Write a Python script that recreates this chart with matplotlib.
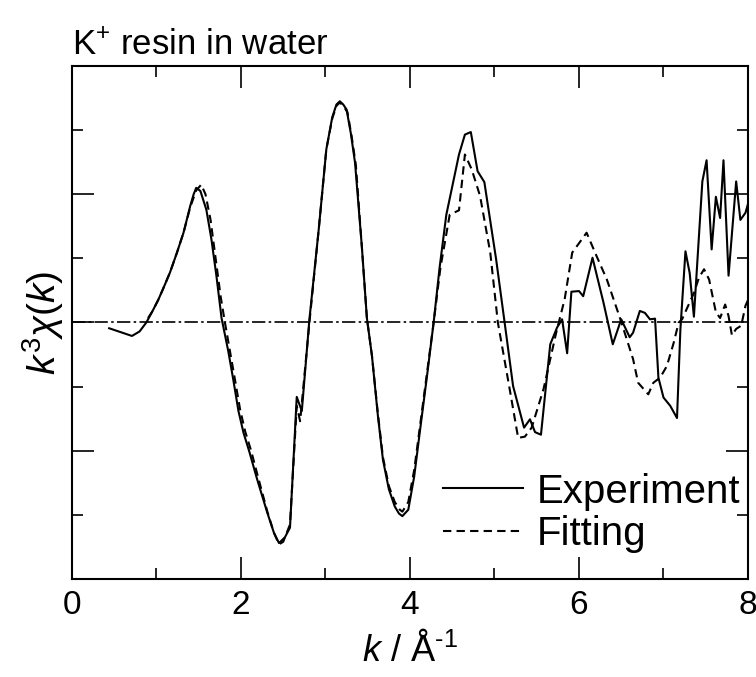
import numpy as np
import matplotlib
matplotlib.use("Agg")
import matplotlib.pyplot as plt
from matplotlib.ticker import MultipleLocator

plt.rcParams['font.family'] = ['Liberation Sans', 'DejaVu Sans']
plt.rcParams['mathtext.fontset'] = 'custom'
plt.rcParams['mathtext.rm'] = 'Liberation Sans'
plt.rcParams['mathtext.it'] = 'Liberation Sans:italic'

# experiment (solid)
k_exp = [0.44, 0.71, 0.80, 0.88, 0.95, 1.02, 1.08, 1.16, 1.24, 1.32, 1.40, 1.44, 1.47,
         1.52, 1.59, 1.65, 1.71, 1.77, 1.85, 1.91, 1.97, 2.03, 2.10, 2.19, 2.31, 2.39, 2.45,
         2.52, 2.58, 2.66, 2.72, 2.81, 2.92, 3.01, 3.08, 3.13, 3.17, 3.21, 3.25, 3.30,
         3.35, 3.43, 3.49, 3.55, 3.62, 3.68, 3.75, 3.82, 3.87, 3.91, 3.98, 4.05, 4.12,
         4.20, 4.28, 4.35, 4.43, 4.58, 4.65, 4.72, 4.80, 4.88, 5.02, 5.12,
         5.22, 5.35, 5.42, 5.48, 5.55, 5.66, 5.74, 5.80, 5.86, 5.91, 6.00, 6.05, 6.16,
         6.29, 6.40, 6.50, 6.60, 6.64, 6.72, 6.78, 6.84, 6.90, 6.94, 7.00, 7.08, 7.16,
         7.20, 7.26, 7.31, 7.36, 7.46, 7.51, 7.57, 7.62, 7.67, 7.71, 7.77, 7.86, 7.91,
         7.97, 8.00]
chi_exp = [-0.09, -0.21, -0.14, 0.00, 0.17, 0.35, 0.53, 0.78, 1.08, 1.40, 1.82, 2.00, 2.10,
           2.05, 1.76, 1.30, 0.72, 0.07, -0.45, -0.90, -1.38, -1.72, -2.02, -2.44, -2.96, -3.28, -3.44,
           -3.35, -3.20, -1.16, -1.38, 0.05, 1.45, 2.70, 3.20, 3.40, 3.45, 3.40, 3.32, 2.95,
           2.49, 1.19, 0.07, -0.52, -1.45, -2.14, -2.60, -2.87, -2.98, -3.02, -2.92, -2.40, -1.67,
           -0.85, 0.00, 0.85, 1.68, 2.62, 2.93, 2.97, 2.36, 2.19, 0.98, 0.00,
           -0.99, -1.64, -1.51, -1.71, -1.75, -0.34, -0.08, 0.05, -0.48, 0.48, 0.49, 0.41, 1.01,
           0.31, -0.34, 0.05, -0.23, -0.16, 0.18, 0.15, 0.05, 0.06, -0.86, -1.17, -1.30, -1.49,
           -0.11, 1.11, 0.77, 0.09, 2.20, 2.53, 1.14, 1.96, 1.63, 2.53, 0.73, 2.20, 1.60,
           1.71, 1.85]

# fitting (dashed)
k_fit = [0.90, 0.95, 1.02, 1.08, 1.16, 1.24, 1.32, 1.40, 1.47, 1.53, 1.58, 1.64, 1.70,
         1.76, 1.81, 1.87, 1.93, 1.99, 2.05, 2.12, 2.20, 2.31, 2.39, 2.45, 2.50, 2.58, 2.66, 2.70,
         2.81, 2.92, 3.01, 3.08, 3.13, 3.17, 3.21, 3.26, 3.31, 3.36, 3.43, 3.49, 3.55,
         3.62, 3.68, 3.75, 3.82, 3.88, 3.91, 3.98, 4.05, 4.12, 4.20, 4.28, 4.36, 4.47,
         4.58, 4.65, 4.73, 4.83, 4.95, 5.04, 5.18, 5.28, 5.36, 5.44,
         5.58, 5.73, 5.83, 5.92, 6.03, 6.09, 6.21, 6.33, 6.49, 6.64, 6.70, 6.82, 6.88,
         6.96, 7.04, 7.12, 7.18, 7.22, 7.36, 7.42, 7.48, 7.54, 7.62, 7.67, 7.73, 7.77,
         7.81, 7.86, 7.92, 7.97, 8.00]
chi_fit = [0.07, 0.17, 0.35, 0.53, 0.78, 1.08, 1.40, 1.80, 2.06, 2.15, 2.00, 1.60, 1.00,
           0.40, 0.00, -0.45, -0.90, -1.36, -1.70, -2.00, -2.40, -2.94, -3.28, -3.46, -3.42, -3.15,
           -1.30, -1.54,
           0.00, 1.45, 2.70, 3.18, 3.38, 3.43, 3.38, 3.28, 2.90, 2.45, 1.19, 0.07, -0.52,
           -1.42, -2.10, -2.55, -2.80, -2.92, -2.95, -2.80, -2.30, -1.60, -0.80, 0.00, 0.85, 1.68,
           1.75, 2.62, 2.39, 1.97, 1.09, 0.00, -1.04, -1.80, -1.78, -1.64,
           -1.04, -0.16, 0.36, 1.09, 1.29, 1.40, 1.03, 0.67, 0.05, -0.57, -0.94, -1.12, -0.94,
           -0.86, -0.68, -0.32, 0.00, 0.05, 0.46, 0.70, 0.83, 0.67, 0.16, 0.07, 0.28, 0.10,
           -0.20, -0.10, -0.05, 0.26, 0.35]

fig = plt.figure(figsize=(7.56, 6.77), dpi=100)
ax = fig.add_axes([0.0952, 0.1448, 0.8942, 0.7577])

ax.axhline(0, color='black', lw=1.2, ls='-.', dashes=(8, 2, 1.5, 2))
ax.plot(k_exp, chi_exp, color='black', lw=1.5, label='Experiment')
ax.plot(k_fit, chi_fit, color='black', lw=1.5, ls='--', dashes=(4, 2.5), label='Fitting')

ax.set_xlim(0, 8)
ax.set_ylim(-4, 4)
ax.xaxis.set_major_locator(MultipleLocator(2))
ax.xaxis.set_minor_locator(MultipleLocator(1))
ax.yaxis.set_major_locator(MultipleLocator(2))
ax.yaxis.set_minor_locator(MultipleLocator(1))
ax.tick_params(which='both', direction='in', top=True, right=True, width=1.2)
ax.tick_params(which='major', length=16, labelsize=24, pad=8)
ax.tick_params(which='minor', length=8)
ax.set_yticklabels([])
for s in ax.spines.values():
    s.set_linewidth(1.5)

ax.set_xlabel(r'$k$ / Å$^{\text{-1}}$', fontsize=26, labelpad=8)
ax.set_ylabel(r'$k^3\chi(k)$', fontsize=28, labelpad=-4)
ax.set_title(r'K$^{+}$ resin in water', fontsize=25, loc='left', pad=8)

ax.legend(loc='lower right', bbox_to_anchor=(1.012, 0.02), frameon=False, fontsize=29,
          handlelength=2.0, handletextpad=0.33, labelspacing=0.1, borderaxespad=0)

fig.savefig('out.png', dpi=100)
